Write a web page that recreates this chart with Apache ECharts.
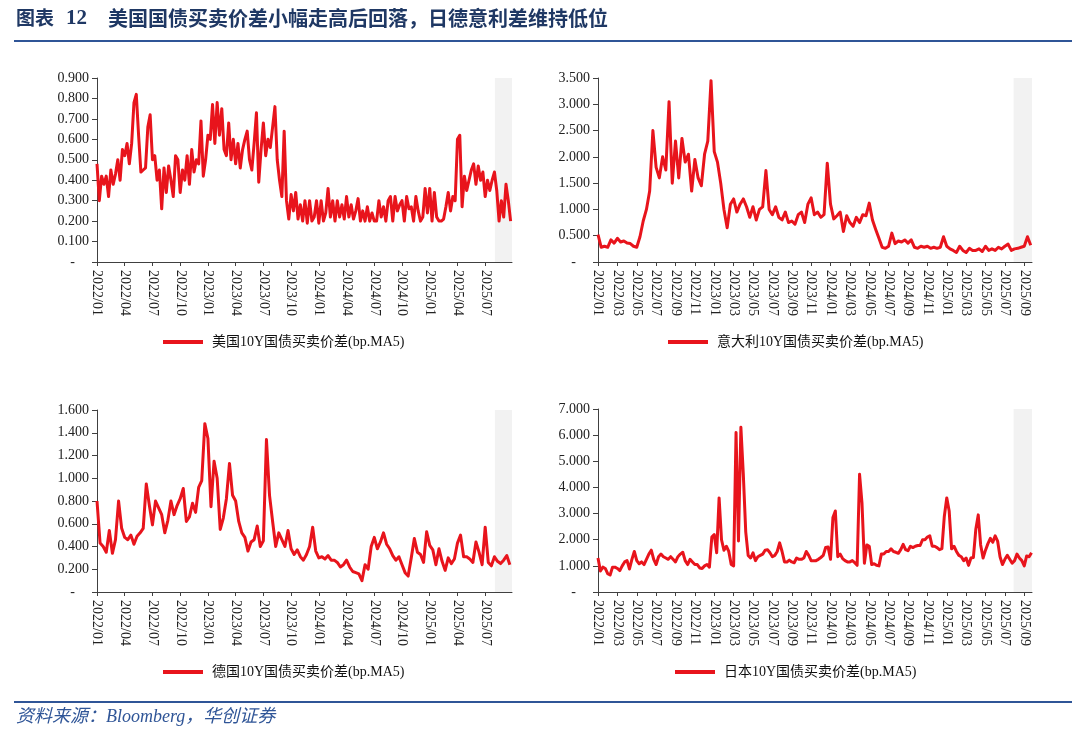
<!DOCTYPE html>
<html>
<head>
<meta charset="utf-8">
<script src="https://cdn.jsdelivr.net/npm/echarts@6/dist/echarts.min.js"></script>
<style>
    html, body { margin: 0; padding: 0; background: #fff; }
    #main { width: 1080px; height: 739px; }
</style>
</head>
<body>
<div id="main"></div>
<script>
// nombres de las series
var usName = '美国10Y国债买卖价差(bp.MA5)';
var itName = '意大利10Y国债买卖价差(bp.MA5)';
var deName = '德国10Y国债买卖价差(bp.MA5)';
var jpName = '日本10Y国债买卖价差(bp.MA5)';

// etiquetas del eje x
var quarterTicks = ['2022/01', '2022/04', '2022/07', '2022/10', '2023/01', '2023/04', '2023/07', '2023/10',
    '2024/01', '2024/04', '2024/07', '2024/10', '2025/01', '2025/04', '2025/07'];
var bimonthTicks = ['2022/01', '2022/03', '2022/05', '2022/07', '2022/09', '2022/11', '2023/01', '2023/03',
    '2023/05', '2023/07', '2023/09', '2023/11', '2024/01', '2024/03', '2024/05', '2024/07', '2024/09',
    '2024/11', '2025/01', '2025/03', '2025/05', '2025/07', '2025/09'];

var usStep = 1 / 4;
var usValues = [
    0.48, 0.30, 0.42, 0.38, 0.42, 0.32, 0.45, 0.38, 0.43, 0.50, 0.40, 0.55, 0.52, 0.58, 0.48, 0.58,
    0.78, 0.82, 0.62, 0.44, 0.45, 0.46, 0.66, 0.72, 0.50, 0.52, 0.40, 0.45, 0.26, 0.46, 0.34, 0.47,
    0.40, 0.32, 0.52, 0.50, 0.34, 0.45, 0.40, 0.52, 0.38, 0.55, 0.44, 0.50, 0.48, 0.69, 0.42, 0.50,
    0.62, 0.60, 0.77, 0.58, 0.78, 0.62, 0.75, 0.55, 0.52, 0.68, 0.50, 0.60, 0.48, 0.58, 0.46, 0.55,
    0.60, 0.64, 0.50, 0.45, 0.58, 0.73, 0.39, 0.55, 0.68, 0.52, 0.60, 0.56, 0.66, 0.76, 0.50, 0.40,
    0.32, 0.64, 0.30, 0.21, 0.33, 0.25, 0.34, 0.21, 0.28, 0.20, 0.30, 0.19, 0.30, 0.20, 0.22, 0.30,
    0.19, 0.30, 0.20, 0.24, 0.36, 0.22, 0.30, 0.20, 0.30, 0.22, 0.28, 0.21, 0.32, 0.22, 0.28, 0.21,
    0.25, 0.31, 0.20, 0.25, 0.20, 0.27, 0.20, 0.24, 0.20, 0.20, 0.30, 0.22, 0.27, 0.20, 0.30, 0.32,
    0.20, 0.32, 0.25, 0.28, 0.30, 0.20, 0.32, 0.26, 0.27, 0.20, 0.32, 0.25, 0.20, 0.22, 0.36, 0.24,
    0.36, 0.20, 0.34, 0.22, 0.20, 0.20, 0.21, 0.27, 0.34, 0.25, 0.32, 0.30, 0.60, 0.62, 0.27, 0.42,
    0.35, 0.40, 0.45, 0.48, 0.38, 0.47, 0.40, 0.44, 0.32, 0.40, 0.35, 0.40, 0.44, 0.35, 0.20, 0.30,
    0.22, 0.38, 0.30, 0.20
];

var itStep = 1 / 3;
var itValues = [
    0.52, 0.28, 0.30, 0.28, 0.42, 0.36, 0.45, 0.38, 0.40, 0.36, 0.35, 0.30,
    0.28, 0.48, 0.78, 1.00, 1.35, 2.50, 1.80, 1.60, 2.00, 1.75, 3.05, 1.50,
    2.30, 1.60, 2.35, 1.90, 2.05, 1.35, 1.95, 1.60, 1.45, 2.05, 2.30, 3.45,
    2.10, 1.90, 1.50, 1.00, 0.65, 1.10, 1.20, 0.95, 1.10, 1.20, 1.05, 0.85,
    1.05, 0.80, 1.00, 1.05, 1.74, 1.00, 0.90, 1.05, 0.85, 0.80, 0.95, 0.75,
    0.78, 0.72, 0.90, 0.95, 0.75, 1.10, 1.22, 0.90, 0.95, 0.85, 0.90, 1.88,
    1.10, 0.82, 0.88, 0.95, 0.58, 0.88, 0.75, 0.68, 0.85, 0.75, 0.90, 0.88,
    1.12, 0.80, 0.62, 0.45, 0.28, 0.26, 0.30, 0.55, 0.35, 0.40, 0.38, 0.42,
    0.36, 0.42, 0.28, 0.26, 0.30, 0.28, 0.30, 0.26, 0.28, 0.26, 0.28, 0.48,
    0.30, 0.25, 0.22, 0.18, 0.30, 0.22, 0.18, 0.26, 0.22, 0.22, 0.25, 0.20,
    0.30, 0.22, 0.25, 0.22, 0.28, 0.25, 0.30, 0.34, 0.22, 0.25, 0.26, 0.28,
    0.30, 0.48, 0.32
];

var deStep = 1 / 3;
var deValues = [
    0.80, 0.43, 0.40, 0.35, 0.54, 0.34, 0.46, 0.80, 0.56, 0.48, 0.46, 0.50,
    0.42, 0.49, 0.52, 0.56, 0.95, 0.76, 0.59, 0.80, 0.74, 0.68, 0.52, 0.63,
    0.80, 0.68, 0.76, 0.82, 0.91, 0.62, 0.66, 0.78, 0.70, 0.92, 0.98, 1.48,
    1.35, 0.75, 1.15, 1.00, 0.55, 0.65, 0.82, 1.13, 0.85, 0.80, 0.62, 0.52,
    0.48, 0.36, 0.44, 0.46, 0.58, 0.40, 0.45, 1.34, 0.85, 0.62, 0.40, 0.52,
    0.46, 0.40, 0.54, 0.38, 0.33, 0.37, 0.31, 0.28, 0.33, 0.40, 0.57, 0.36,
    0.30, 0.31, 0.29, 0.32, 0.28, 0.28, 0.26, 0.22, 0.24, 0.28, 0.22, 0.18,
    0.17, 0.16, 0.10, 0.24, 0.20, 0.40, 0.48, 0.38, 0.44, 0.52, 0.42, 0.38,
    0.32, 0.28, 0.31, 0.24, 0.17, 0.14, 0.30, 0.47, 0.35, 0.33, 0.26, 0.53,
    0.41, 0.37, 0.24, 0.38, 0.27, 0.19, 0.30, 0.25, 0.29, 0.43, 0.50, 0.31,
    0.31, 0.29, 0.26, 0.44, 0.35, 0.24, 0.57, 0.26, 0.23, 0.31, 0.27, 0.25,
    0.28, 0.32, 0.24
];

var jpStep = 1 / 4;
var jpValues = [
    1.30, 0.80, 0.95, 0.90, 0.70, 0.65, 0.95, 0.95, 0.90, 0.82, 1.00, 1.15, 1.20, 0.88, 1.25, 1.55,
    1.20, 1.08, 1.15, 1.05, 1.25, 1.45, 1.60, 1.25, 1.05, 1.35, 1.45, 1.35, 1.30, 1.25, 1.35, 1.25,
    1.15, 1.35, 1.45, 1.52, 1.20, 1.05, 1.25, 1.15, 1.05, 1.05, 0.92, 0.90, 1.00, 1.05, 0.95, 2.10,
    2.20, 1.50, 3.60, 2.00, 1.60, 1.75, 1.55, 1.05, 1.00, 6.10, 1.95, 6.30, 4.50, 2.30, 1.40, 1.30,
    1.50, 1.20, 1.35, 1.40, 1.45, 1.60, 1.62, 1.50, 1.35, 1.40, 1.55, 1.88, 1.55, 1.15, 1.15, 1.22,
    1.15, 1.12, 1.30, 1.25, 1.25, 1.30, 1.55, 1.40, 1.20, 1.20, 1.20, 1.25, 1.32, 1.40, 1.70, 1.72,
    1.25, 2.85, 3.10, 1.35, 1.45, 1.28, 1.20, 1.15, 1.15, 1.20, 1.12, 1.02, 4.50, 3.40, 1.10, 1.80,
    1.75, 1.05, 1.08, 1.02, 1.00, 1.45, 1.45, 1.55, 1.55, 1.65, 1.55, 1.52, 1.48, 1.62, 1.82, 1.62,
    1.58, 1.75, 1.70, 1.75, 1.78, 1.78, 2.00, 2.00, 2.10, 2.15, 1.75, 1.75, 1.70, 1.62, 1.66, 2.90,
    3.60, 3.10, 1.65, 1.75, 1.55, 1.40, 1.35, 1.20, 1.30, 1.02, 1.30, 1.32, 2.40, 2.95, 1.80, 1.30,
    1.60, 1.85, 2.05, 1.90, 2.15, 1.95, 1.35, 1.05, 1.25, 1.40, 1.25, 1.10, 1.20, 1.45, 1.30, 1.20,
    1.00, 1.38, 1.35, 1.50
];

// fin del eje y tramo sombreado (en meses desde 2022/01)
var usEnd = 44.9, deEnd = 44.9, itEnd = 44.8, jpEnd = 44.8;
var usShadeFrom = 43.05, deShadeFrom = 43.05, itShadeFrom = 42.9, jpShadeFrom = 42.9;

var serif = '"Liberation Serif", "Noto Sans CJK SC"';
var lineRed = '#E8141C';
var axisGray = '#404040';

function toMonth(label) {
    var p = label.split('/');
    return (parseInt(p[0], 10) - 2022) * 12 + parseInt(p[1], 10) - 1;
}

function monthLabel(v) {
    var y = 2022 + Math.floor(v / 12);
    var m = Math.round(v - (y - 2022) * 12) + 1;
    return y + '/' + (m < 10 ? '0' + m : m);
}

function toPoints(values, step) {
    return values.map(function (v, i) {
        return [i * step, v];
    });
}

function xAxisOpt(gridIndex, ticks, end) {
    var pos = ticks.map(toMonth);
    return {
        type: 'value',
        gridIndex: gridIndex,
        min: 0,
        max: end,
        axisLine: { show: true, lineStyle: { color: axisGray, width: 1 } },
        axisTick: { show: true, length: 4, customValues: pos, lineStyle: { color: axisGray } },
        axisLabel: {
            customValues: pos,
            rotate: -90,
            margin: 8,
            fontSize: 14,
            fontFamily: serif,
            color: '#222',
            formatter: monthLabel
        },
        splitLine: { show: false }
    };
}

function yAxisOpt(gridIndex, max, step) {
    return {
        type: 'value',
        gridIndex: gridIndex,
        min: 0,
        max: max,
        interval: step,
        axisLine: { show: true, lineStyle: { color: axisGray, width: 1 } },
        axisTick: { show: true, length: 5, lineStyle: { color: axisGray } },
        axisLabel: {
            margin: 8,
            fontSize: 14,
            fontFamily: serif,
            color: '#222',
            formatter: function (v) {
                return Math.abs(v) < 1e-9 ? '-    ' : v.toFixed(3);
            }
        },
        splitLine: { show: false }
    };
}

function lineSeries(name, index, values, step, shadeFrom, end) {
    return {
        type: 'line',
        name: name,
        xAxisIndex: index,
        yAxisIndex: index,
        data: toPoints(values, step),
        symbol: 'none',
        showSymbol: false,
        lineStyle: { color: lineRed, width: 3, join: 'round' },
        itemStyle: { color: lineRed },
        markArea: {
            silent: true,
            itemStyle: { color: '#F2F2F2' },
            data: [[{ xAxis: shadeFrom }, { xAxis: end }]]
        }
    };
}

function legendOpt(name, left, top) {
    return {
        data: [name],
        left: left,
        top: top,
        padding: 0,
        icon: 'rect',
        itemWidth: 40,
        itemHeight: 4,
        selectedMode: false,
        textStyle: { fontSize: 14, fontFamily: serif, color: '#111', padding: [0, 0, 0, 4] }
    };
}

var chart = echarts.init(document.getElementById('main'));

chart.setOption({
    animation: false,
    backgroundColor: '#fff',
    grid: [
        { left: 97, top: 78, width: 415, height: 184 },
        { left: 598, top: 78, width: 434, height: 184 },
        { left: 97, top: 410, width: 415, height: 182 },
        { left: 598, top: 409, width: 434, height: 183 }
    ],
    xAxis: [
        xAxisOpt(0, quarterTicks, usEnd),
        xAxisOpt(1, bimonthTicks, itEnd),
        xAxisOpt(2, quarterTicks, deEnd),
        xAxisOpt(3, bimonthTicks, jpEnd)
    ],
    yAxis: [
        yAxisOpt(0, 0.9, 0.1),
        yAxisOpt(1, 3.5, 0.5),
        yAxisOpt(2, 1.6, 0.2),
        yAxisOpt(3, 7, 1)
    ],
    legend: [
        legendOpt(usName, 163, 335),
        legendOpt(itName, 668, 335),
        legendOpt(deName, 163, 665),
        legendOpt(jpName, 675, 665)
    ],
    series: [
        lineSeries(usName, 0, usValues, usStep, usShadeFrom, usEnd),
        lineSeries(itName, 1, itValues, itStep, itShadeFrom, itEnd),
        lineSeries(deName, 2, deValues, deStep, deShadeFrom, deEnd),
        lineSeries(jpName, 3, jpValues, jpStep, jpShadeFrom, jpEnd)
    ],
    graphic: [
        {
            type: 'text', left: 16, top: 8,
            style: { text: '图表', font: 'bold 19px "Noto Sans CJK SC"', fill: '#1F3864' }
        },
        {
            type: 'text', left: 66, top: 8,
            style: { text: '12', font: 'bold 21px "Liberation Serif"', fill: '#1F3864' }
        },
        {
            type: 'text', left: 108, top: 8,
            style: {
                text: '美国国债买卖价差小幅走高后回落，日德意利差维持低位',
                font: 'bold 20px "Noto Sans CJK SC"',
                fill: '#1F3864'
            }
        },
        {
            type: 'line',
            shape: { x1: 14, y1: 41, x2: 1072, y2: 41 },
            style: { stroke: '#2F5597', lineWidth: 2 }
        },
        {
            type: 'line',
            shape: { x1: 14, y1: 702, x2: 1072, y2: 702 },
            style: { stroke: '#2F5597', lineWidth: 2 }
        },
        {
            type: 'text', left: 16, top: 708,
            style: {
                text: '资料来源：Bloomberg，华创证券',
                font: 'italic 18px "Liberation Serif", "Noto Sans CJK SC"',
                fill: '#2F5597'
            }
        }
    ]
});
</script>
</body>
</html>
